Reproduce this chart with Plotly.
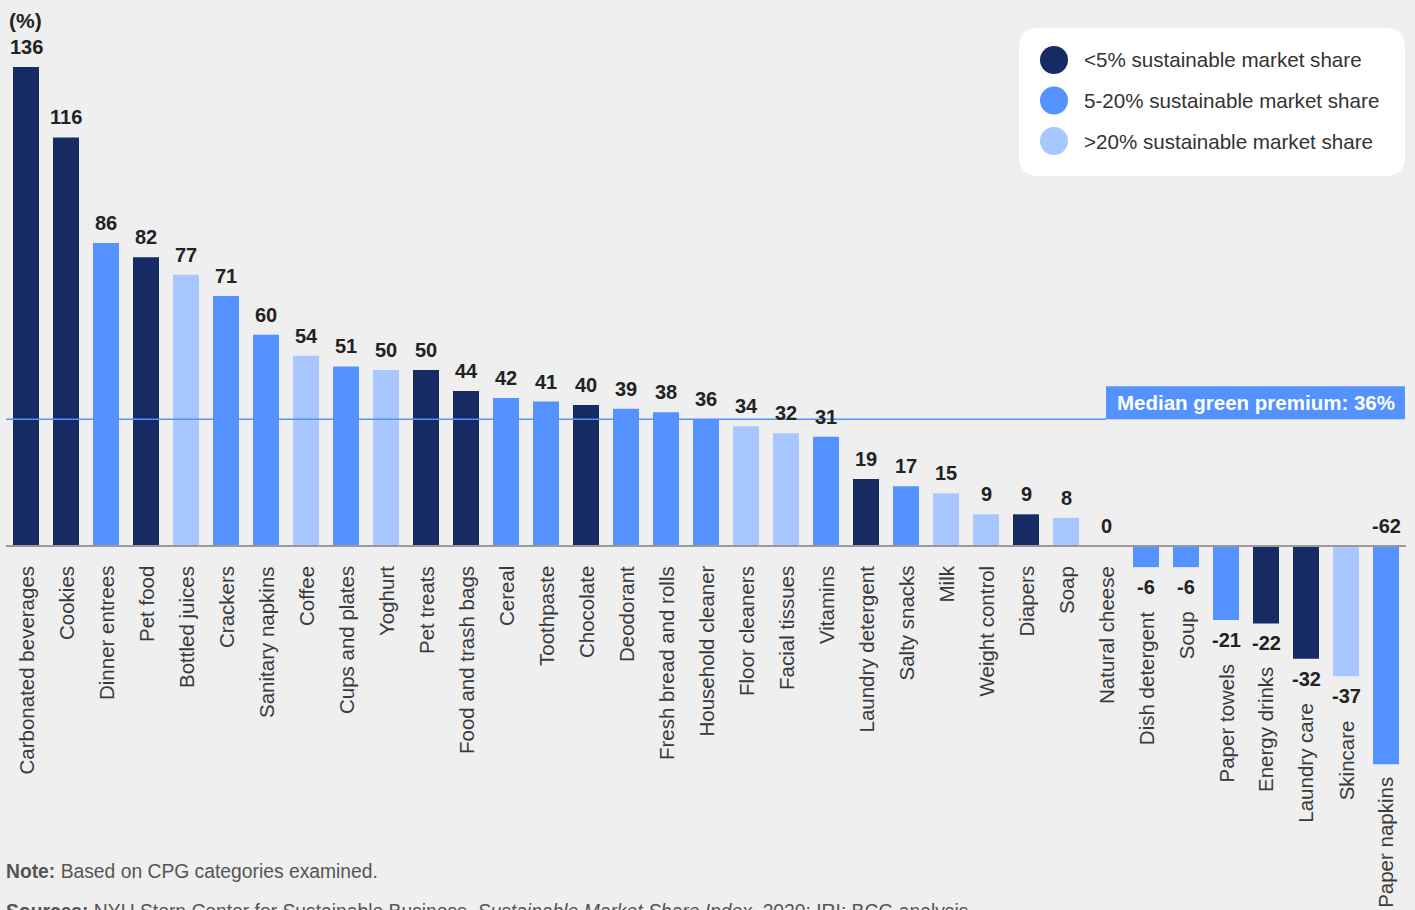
import numpy as np
import plotly.graph_objects as go

categories = ["Carbonated beverages", "Cookies", "Dinner entrees", "Pet food", "Bottled juices",
              "Crackers", "Sanitary napkins", "Coffee", "Cups and plates", "Yoghurt", "Pet treats",
              "Food and trash bags", "Cereal", "Toothpaste", "Chocolate", "Deodorant",
              "Fresh bread and rolls", "Household cleaner", "Floor cleaners", "Facial tissues",
              "Vitamins", "Laundry detergent", "Salty snacks", "Milk", "Weight control", "Diapers",
              "Soap", "Natural cheese", "Dish detergent", "Soup", "Paper towels", "Energy drinks",
              "Laundry care", "Skincare", "Paper napkins"]
premium = [136, 116, 86, 82, 77, 71, 60, 54, 51, 50, 50, 44, 42, 41, 40, 39, 38, 36, 34, 32, 31,
           19, 17, 15, 9, 9, 8, 0, -6, -6, -21, -22, -32, -37, -62]
# share group: 0 = <5%, 1 = 5-20%, 2 = >20%
share_group = [0, 0, 1, 0, 2, 1, 1, 2, 1, 2, 0, 0, 1, 1, 0, 1, 1, 1, 2, 2, 1,
               0, 1, 2, 2, 0, 2, 1, 1, 1, 1, 0, 0, 2, 1]
legend_labels = ["<5% sustainable market share", "5-20% sustainable market share",
                 ">20% sustainable market share"]

COLORS = ["#162B63", "#5492FF", "#A9C7FF"]
BG = "#EFEFEF"
W, H = 1415, 910
FONT = "Liberation Sans, Arial, sans-serif"

def px(x):
    return x / W

def py(y):
    return 1 - y / H

K = 3.522   # px per unit
ZERO = 546
x_idx = list(range(len(categories)))
median = float(np.median(premium))

fig = go.Figure()
fig.add_trace(go.Bar(
    x=x_idx, y=premium,
    marker=dict(color=[COLORS[g] for g in share_group], line=dict(width=0)),
    hoverinfo="skip", showlegend=False,
))

annotations = []
shapes = []

vmin = min(premium)
for i, (c, v) in enumerate(zip(categories, premium)):
    lbl = f"<b>{v}</b>"
    if v >= 0 or v == vmin:
        annotations.append(dict(x=i, y=max(v, 0), xref="x", yref="y", text=lbl, showarrow=False,
                                yanchor="middle", yshift=20,
                                font=dict(size=20, color="#222222", family=FONT)))
    else:
        annotations.append(dict(x=i, y=v, xref="x", yref="y", text=lbl, showarrow=False,
                                yanchor="middle", yshift=-20,
                                font=dict(size=20, color="#222222", family=FONT)))
    if v >= 0:
        shift = -18
    elif v == vmin:
        shift = -11
    else:
        shift = -42
    annotations.append(dict(x=i, y=min(v, 0), xref="x", yref="y", text=c, showarrow=False,
                            textangle=-90, yanchor="top", xanchor="center", yshift=shift,
                            font=dict(size=20.5, color="#3A3A3A", family=FONT)))

# zero axis line
shapes.append(dict(type="line", xref="paper", yref="y", x0=px(6), x1=px(1406), y0=0, y1=0,
                   line=dict(color="#9A9A9A", width=2), layer="above"))
# median line
shapes.append(dict(type="line", xref="paper", yref="y", x0=px(6), x1=px(1106), y0=median, y1=median,
                   line=dict(color="#5492FF", width=1.5), layer="above"))
# median label box
shapes.append(dict(type="rect", xref="paper", yref="y", x0=px(1106), x1=px(1405),
                   y0=median, y1=median + 33 / K, fillcolor="#5492FF", line=dict(width=0),
                   layer="above"))
annotations.append(dict(x=px(1256), y=median + 16.5 / K, xref="paper", yref="y", xanchor="center",
                        yanchor="middle", showarrow=False,
                        text=f"<b>Median green premium: {median:.0f}%</b>",
                        font=dict(size=20.5, color="white", family=FONT)))

# unit label
annotations.append(dict(x=px(7), y=py(20), xref="paper", yref="paper", xanchor="left",
                        yanchor="middle", showarrow=False, text="<b>(%)</b>",
                        font=dict(size=21, color="#222222", family=FONT)))

# legend box (rounded)
x0, x1, y0, y1, r = 1019, 1405, 28, 176, 20
rx, ry = r / W, r / H
X0, X1, Y0, Y1 = px(x0), px(x1), py(y0), py(y1)
path = (f"M {X0+rx},{Y0} L {X1-rx},{Y0} Q {X1},{Y0} {X1},{Y0-ry} "
        f"L {X1},{Y1+ry} Q {X1},{Y1} {X1-rx},{Y1} L {X0+rx},{Y1} Q {X0},{Y1} {X0},{Y1+ry} "
        f"L {X0},{Y0-ry} Q {X0},{Y0} {X0+rx},{Y0} Z")
shapes.append(dict(type="path", xref="paper", yref="paper", path=path,
                   fillcolor="white", line=dict(width=0), layer="above"))
rows = [60, 100.5, 141]
for g, (lab, yy) in enumerate(zip(legend_labels, rows)):
    shapes.append(dict(type="circle", xref="paper", yref="paper",
                       x0=px(1054 - 14), x1=px(1054 + 14), y0=py(yy + 14), y1=py(yy - 14),
                       fillcolor=COLORS[g], line=dict(width=0), layer="above"))
    annotations.append(dict(x=px(1082), y=py(yy), xref="paper", yref="paper", xanchor="left",
                            yanchor="middle", showarrow=False,
                            text=lab.replace("<", "&lt;").replace(">", "&gt;"),
                            font=dict(size=20.6, color="#333333", family=FONT)))

# footnotes
annotations.append(dict(x=px(4), y=py(871), xref="paper", yref="paper", xanchor="left",
                        yanchor="middle", showarrow=False,
                        text="<b>Note:</b> Based on CPG categories examined.",
                        font=dict(size=19.3, color="#555555", family=FONT)))
annotations.append(dict(x=px(4), y=py(911), xref="paper", yref="paper", xanchor="left",
                        yanchor="middle", showarrow=False,
                        text="<b>Sources:</b> NYU Stern Center for Sustainable Business, "
                             "<i>Sustainable Market Share Index</i>, 2020; IRI; BCG analysis.",
                        font=dict(size=19.3, color="#555555", family=FONT)))

fig.update_layout(
    width=W, height=H,
    margin=dict(l=0, r=0, t=0, b=0),
    paper_bgcolor=BG, plot_bgcolor=BG,
    bargap=0.35,
    xaxis=dict(visible=False, range=[-0.65, (W - 26) / 40], fixedrange=True),
    yaxis=dict(visible=False, range=[-(H - ZERO) / K, ZERO / K], fixedrange=True),
    shapes=shapes, annotations=annotations,
    showlegend=False,
)
fig.write_html("out.html", config={"displayModeBar": False})

# remove the browser's default page margin so the figure fills the window exactly
with open("out.html", encoding="utf-8") as f:
    html = f.read()
html = html.replace("<body>", '<body style="margin:0;padding:0;overflow:hidden;background:#EFEFEF">', 1)
with open("out.html", "w", encoding="utf-8") as f:
    f.write(html)
